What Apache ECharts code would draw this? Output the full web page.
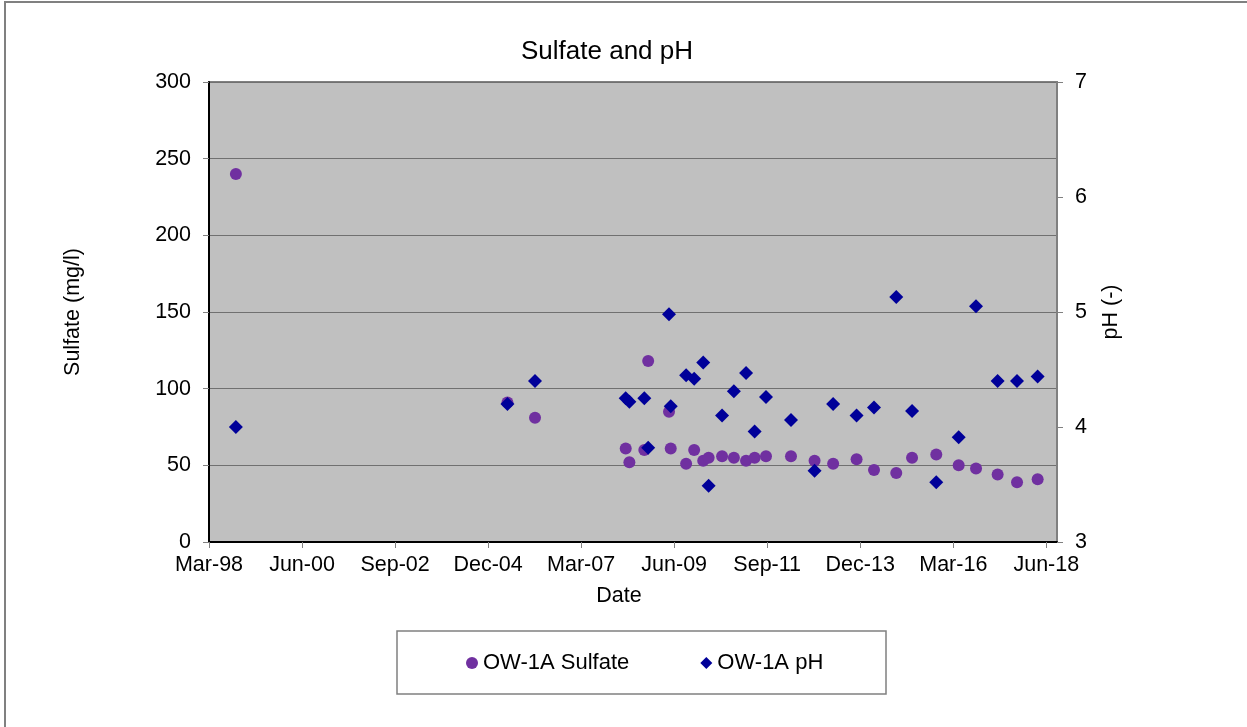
<!DOCTYPE html>
<html>
<head>
<meta charset="utf-8">
<script src="https://cdn.jsdelivr.net/npm/echarts@6/dist/echarts.min.js"></script>
<style>
  html, body { margin: 0; padding: 0; background: #ffffff; }
  #chart { width: 1247px; height: 727px; }
</style>
</head>
<body>
<div id="chart"></div>
<script>
// ---- Data ----
const sampleDates = [
  '1998-10-26', '2005-05-20', '2006-01-20', '2008-03-30', '2008-05-01',
  '2008-09-11', '2008-10-15', '2009-04-16', '2009-05-01', '2009-09-15',
  '2009-11-25', '2010-02-13', '2010-04-01', '2010-07-29', '2010-11-11',
  '2011-02-25', '2011-05-12', '2011-08-21', '2012-03-29', '2012-10-24',
  '2013-04-05', '2013-10-30', '2014-04-01', '2014-10-15', '2015-03-02',
  '2015-10-03', '2016-04-18', '2016-09-19', '2017-03-28', '2017-09-16',
  '2018-03-16'
];
const sulfate = [
  240, 91, 81, 61, 52,
  60, 118, 85, 61, 51,
  60, 53, 55, 56, 55,
  53, 55, 56, 56, 53,
  51, 54, 47, 45, 55,
  57, 50, 48, 44, 39,
  41
];
const ph = [
  4.00, 4.20, 4.40, 4.25, 4.22,
  4.25, 3.82, 4.98, 4.18, 4.45,
  4.42, 4.56, 3.49, 4.10, 4.31,
  4.47, 3.96, 4.26, 4.06, 3.62,
  4.20, 4.10, 4.17, 5.13, 4.14,
  3.52, 3.91, 5.05, 4.40, 4.40,
  4.44
];
const xTickLabels = ['Mar-98', 'Jun-00', 'Sep-02', 'Dec-04', 'Mar-07', 'Jun-09', 'Sep-11', 'Dec-13', 'Mar-16', 'Jun-18'];
const seriesNames = ['OW-1A Sulfate', 'OW-1A pH'];

// x axis unit: months since 1 March 1998 (first tick label "Mar-98")
const TICK_STEP = 27; // months between tick labels
const X_MAX = 246.1;
function toMonths(s) {
  const [y, m, d] = s.split('-').map(Number);
  const dim = new Date(y, m, 0).getDate();
  return (y - 1998) * 12 + (m - 3) + (d - 1) / dim;
}
const xs = sampleDates.map(toMonths);
const sulfateData = xs.map((x, i) => [x, sulfate[i]]);
const phData = xs.map((x, i) => [x, ph[i]]);

const FONT = '"Liberation Sans", Arial, sans-serif';
const chart = echarts.init(document.getElementById('chart'), null, { renderer: 'canvas' });

chart.setOption({
  animation: false,
  backgroundColor: '#ffffff',
  textStyle: { fontFamily: FONT, color: '#000' },
  title: {
    text: 'Sulfate and pH',
    left: 521, top: 39, padding: 0,
    textStyle: { fontFamily: FONT, fontSize: 26, fontWeight: 'normal', color: '#000' }
  },
  legend: {
    data: [
      { name: seriesNames[0], icon: 'circle' },
      { name: seriesNames[1], icon: 'diamond' }
    ],
    left: 466, top: 652, padding: 0,
    itemWidth: 12, itemHeight: 12, itemGap: 71,
    textStyle: { fontFamily: FONT, fontSize: 22, color: '#000' },
    selectedMode: false
  },
  grid: {
    left: 209, right: 190, top: 82, bottom: 185,
    show: true, backgroundColor: '#C0C0C0', borderColor: '#808080', borderWidth: 2,
    outerBoundsMode: 'none'
  },
  xAxis: {
    type: 'value', min: 0, max: X_MAX, interval: TICK_STEP,
    name: 'Date', nameLocation: 'middle', nameGap: 43,
    nameTextStyle: { fontFamily: FONT, fontSize: 21.5, color: '#000', padding: [0, 28, 0, 0] },
    axisLine: { show: true, onZero: false, lineStyle: { color: '#000', width: 2 } },
    axisTick: { show: true, length: 6, lineStyle: { color: '#808080', width: 1 } },
    axisLabel: {
      margin: 12, fontFamily: FONT, fontSize: 21.5, color: '#000',
      showMaxLabel: false,
      formatter: v => {
        const i = Math.round(v / TICK_STEP);
        return Math.abs(v - i * TICK_STEP) < 1e-6 ? (xTickLabels[i] || '') : '';
      }
    },
    splitLine: { show: false }
  },
  yAxis: [
    {
      type: 'value', min: 0, max: 300, interval: 50, position: 'left',
      name: 'Sulfate (mg/l)', nameLocation: 'middle', nameGap: 125, nameRotate: 90,
      nameTextStyle: { fontFamily: FONT, fontSize: 21.5, color: '#000' },
      axisLine: { show: true, lineStyle: { color: '#000', width: 2 } },
      axisTick: { show: true, length: 6, lineStyle: { color: '#808080', width: 1 } },
      axisLabel: { margin: 18, fontFamily: FONT, fontSize: 21.5, color: '#000' },
      splitLine: { show: true, lineStyle: { color: '#707070', width: 1 } }
    },
    {
      type: 'value', min: 3, max: 7, interval: 1, position: 'right',
      name: 'pH (-)', nameLocation: 'middle', nameGap: 43, nameRotate: 90,
      nameTextStyle: { fontFamily: FONT, fontSize: 21.5, color: '#000' },
      axisLine: { show: true, lineStyle: { color: '#808080', width: 2 } },
      axisTick: { show: true, length: 6, lineStyle: { color: '#808080', width: 1 } },
      axisLabel: { margin: 18, fontFamily: FONT, fontSize: 21.5, color: '#000' },
      splitLine: { show: false }
    }
  ],
  series: [
    {
      name: seriesNames[0], type: 'scatter', yAxisIndex: 0,
      symbol: 'circle', symbolSize: 12,
      itemStyle: { color: '#7030A0', opacity: 1 },
      data: sulfateData, z: 2
    },
    {
      name: seriesNames[1], type: 'scatter', yAxisIndex: 1,
      symbol: 'diamond', symbolSize: 14,
      itemStyle: { color: '#000099', opacity: 1 },
      data: phData, z: 3
    }
  ],
  graphic: [
    {
      type: 'rect', z: -10, silent: true,
      shape: { x: 5, y: 2, width: 1300, height: 800 },
      style: { fill: null, stroke: '#808080', lineWidth: 2 }
    },
    {
      type: 'rect', z: -5, silent: true,
      shape: { x: 397, y: 631, width: 489, height: 63 },
      style: { fill: '#ffffff', stroke: '#808080', lineWidth: 1.5 }
    }
  ]
});
</script>
</body>
</html>
